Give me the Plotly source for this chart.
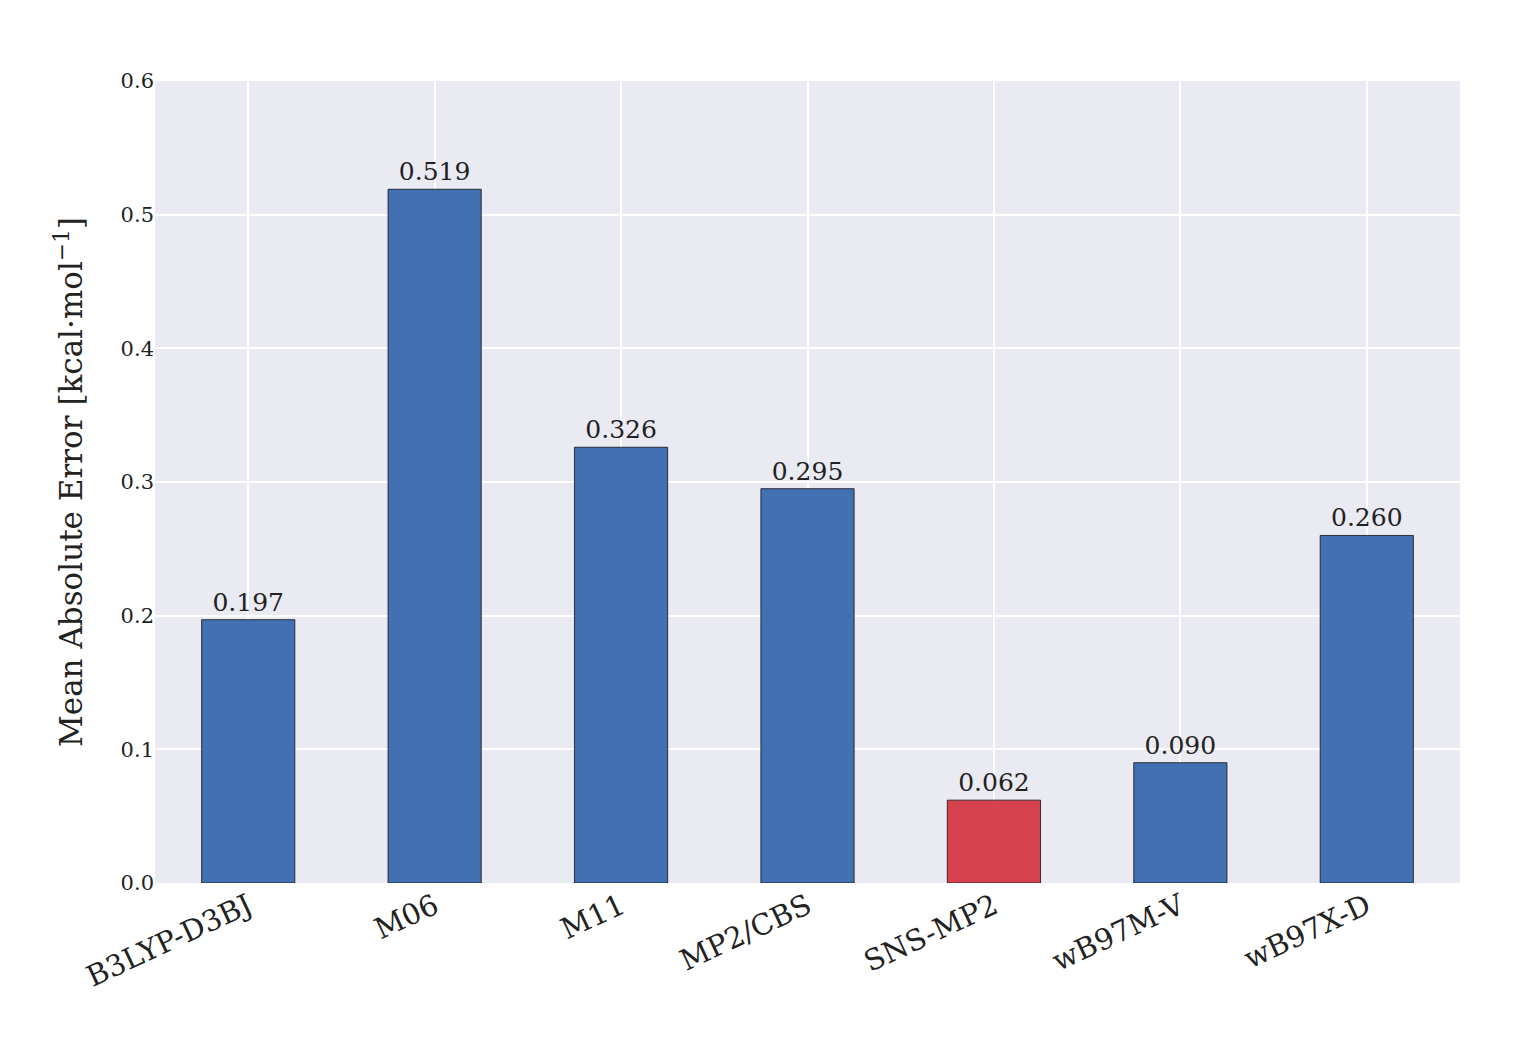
import plotly.graph_objects as go

methods = ["B3LYP-D3BJ", "M06", "M11", "MP2/CBS", "SNS-MP2", "wB97M-V", "wB97X-D"]
mae = [0.197, 0.519, 0.326, 0.295, 0.062, 0.090, 0.260]
colors = ["#4170b3" if m != "SNS-MP2" else "#d6434f" for m in methods]
labels = [f"{v:.3f}" for v in mae]

fig = go.Figure(go.Bar(
    x=methods, y=mae, width=0.5, marker=dict(color=colors, line=dict(color="#111", width=0.8)),
    text=labels, textposition="outside", cliponaxis=False,
    textfont=dict(family="DejaVu Serif", size=25, color="#222"),
))
fig.update_layout(
    width=1516, height=1052, paper_bgcolor="white", plot_bgcolor="#eaeaf2",
    margin=dict(l=147, r=64, t=73, b=177), showlegend=False,
    font=dict(family="DejaVu Serif", color="#222"),
)
fig.update_xaxes(showgrid=True, gridcolor="white", gridwidth=2, tickangle=-25,
                 tickfont=dict(size=29), ticks="", range=[-0.5, 6.5])
fig.update_yaxes(range=[0, 0.6], dtick=0.1, tickformat=".1f", gridcolor="white", gridwidth=2,
                 zeroline=False, tickfont=dict(size=21), ticks="",
                 title=dict(text="Mean Absolute Error [kcal·mol<sup>−1</sup>]", font=dict(size=31), standoff=28))
fig.write_html("out.html")
